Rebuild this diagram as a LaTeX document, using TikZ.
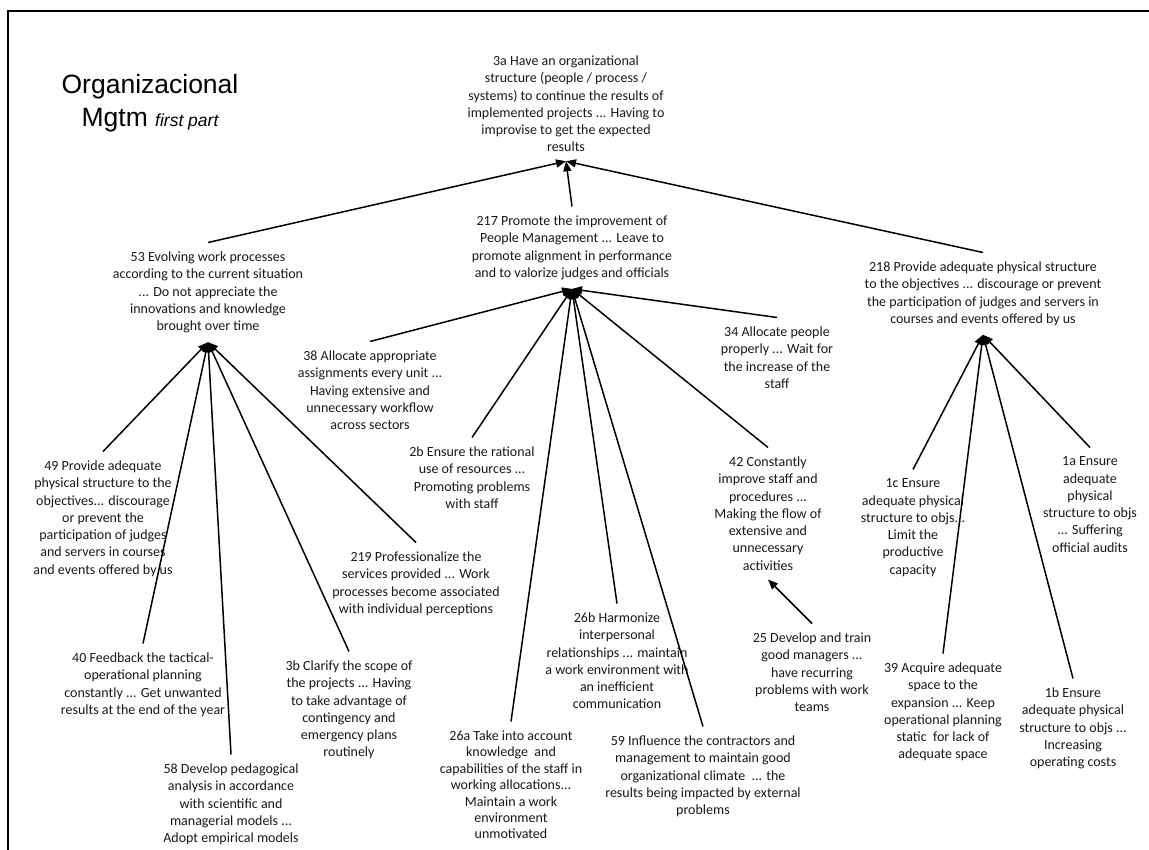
\documentclass[tikz,border=0pt]{standalone}
\usepackage{fontspec}
\setmainfont{Carlito}
\newfontfamily\titlefont{Liberation Sans}
\usetikzlibrary{arrows.meta}
\definecolor{txt}{RGB}{25,25,25}
\tikzset{
  lbl/.style={anchor=north, align=center, inner xsep=2pt, inner ysep=9pt,
    font=\fontsize{14}{17.3}\selectfont, text=txt},
  arr/.style={line width=1.5pt, -{Triangle[length=10pt,width=8pt]}},
}
\begin{document}
\begin{tikzpicture}[x=1pt,y=-1pt]
\useasboundingbox (0,0) rectangle (1149,850);
\fill[white] (0,0) rectangle (1149,850);
\draw[line width=2pt] (8,850) -- (8,11) -- (1149,11);

\node[align=center, text=black, font=\titlefont\fontsize{26.5}{33}\selectfont] (title) at (150,103)
  {Organizacional\\Mgtm {\fontsize{17.5}{20}\selectfont\itshape first part}};

\node[lbl] (n3a) at (566,46.5) {3a Have an organizational\\structure (people / process /\\systems) to continue the results of\\implemented projects ... Having to\\improvise to get the expected\\results};
\node[lbl] (n217) at (572,206.5) {217 Promote the improvement of\\People Management ... Leave to\\promote alignment in performance\\and to valorize judges and officials};
\node[lbl] (n53) at (208,242.5) {53 Evolving work processes\\according to the current situation\\... Do not appreciate the\\innovations and knowledge\\brought over time};
\node[lbl] (n218) at (983,252.5) {218 Provide adequate physical structure\\to the objectives ... discourage or prevent\\the participation of judges and servers in\\courses and events offered by us};
\node[lbl] (n38) at (370,341.5) {38 Allocate appropriate\\assignments every unit ...\\Having extensive and\\unnecessary workflow\\across sectors};
\node[lbl] (n2b) at (472,437.5) {2b Ensure the rational\\use of resources ...\\Promoting problems\\with staff};
\node[lbl] (n34) at (777,317.5) {34 Allocate people\\properly ... Wait for\\the increase of the\\staff};
\node[lbl] (n42) at (768,447.5) {42 Constantly\\improve staff and\\procedures ...\\Making the flow of\\extensive and\\unnecessary\\activities};
\node[lbl] (n25) at (812,623.5) {25 Develop and train\\good managers ...\\have recurring\\problems with work\\teams};
\node[lbl] (n1c) at (913,469.5) {1c Ensure\\adequate physical\\structure to objs...\\Limit the\\productive\\capacity};
\node[lbl] (n1a) at (1090,447.5) {1a Ensure\\adequate\\physical\\structure to objs\\... Suffering\\official audits};
\node[lbl] (n39) at (943,653.5) {39 Acquire adequate\\space to the\\expansion ... Keep\\operational planning\\static~ for lack of\\adequate space};
\node[lbl] (n1b) at (1073,678.5) {1b Ensure\\adequate physical\\structure to objs ...\\Increasing\\operating costs};
\node[lbl] (n49) at (103,451.5) {49 Provide adequate\\physical structure to the\\objectives... discourage\\or prevent the\\participation of judges\\and servers in courses\\and events offered by us};
\node[lbl] (n219) at (416,542.5) {219 Professionalize the\\services provided ... Work\\processes become associated\\with individual perceptions};
\node[lbl] (n40) at (143,643.5) {40 Feedback the tactical-\\operational planning\\constantly ... Get unwanted\\results at the end of the year};
\node[lbl] (n3b) at (349,651.5) {3b Clarify the scope of\\the projects ... Having\\to take advantage of\\contingency and\\emergency plans\\routinely};
\node[lbl] (n58) at (231,754.5) {58 Develop pedagogical\\analysis in accordance\\with scientific and\\managerial models ...\\Adopt empirical models};
\node[lbl, font=\fontsize{14}{16.4}\selectfont] (n26a) at (511,721.5) {26a Take into account\\knowledge~ and\\capabilities of the staff in\\working allocations...\\Maintain a work\\environment\\unmotivated};
\node[lbl] (n26b) at (617,603.5) {26b Harmonize\\interpersonal\\relationships ... maintain\\a work environment with\\an inefficient\\communication};
\node[lbl] (n59) at (703,726.5) {59 Influence the contractors and\\management to maintain good\\organizational climate~ ... the\\results being impacted by external\\problems};

% level 1
\draw[arr] (n53.north) -- (n3a.south);
\draw[arr] (n217.north) -- (n3a.south);
\draw[arr] (n218.north) -- (n3a.south);
% children of 53
\foreach \c in {n49,n40,n58,n3b,n219}
  \draw[arr] (\c.north) -- (n53.south);
% children of 217
\foreach \c in {n38,n2b,n26a,n26b,n59,n42,n34}
  \draw[arr] (\c.north) -- (n217.south);
% children of 218
\foreach \c in {n1c,n39,n1b,n1a}
  \draw[arr] (\c.north) -- (n218.south);
% 25 -> 42
\draw[arr] (n25.north) -- (n42.south);
\end{tikzpicture}
\end{document}
